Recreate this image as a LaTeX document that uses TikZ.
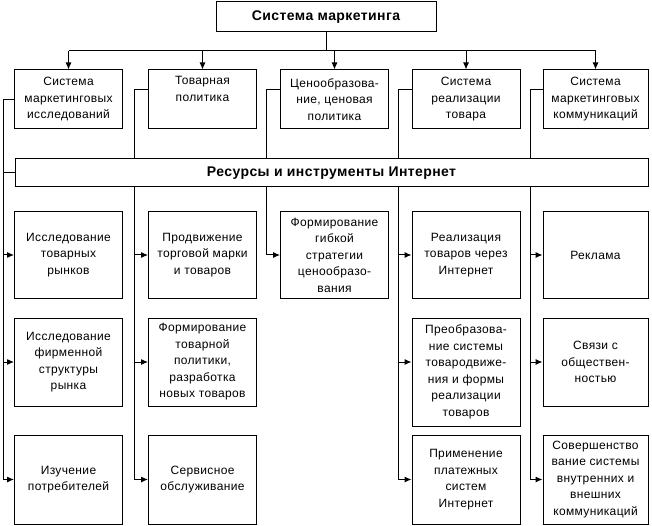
\documentclass[tikz,border=0pt]{standalone}
\usepackage{fontspec}
\setmainfont[LetterSpace=3]{Liberation Sans}
\usetikzlibrary{arrows.meta}

\begin{document}
\begin{tikzpicture}[x=1pt,y=-1pt,line width=1pt,
	font=\fontsize{12}{16.5}\selectfont,
	box/.style={draw,align=center,inner sep=1pt,minimum width=108pt},
	head/.style={font=\fontsize{14}{16}\selectfont\bfseries},
	arr/.style={-{Latex[length=7pt,width=6pt]}}]
	\useasboundingbox (0,0) rectangle (652,526);
	\node[box,head,minimum width=220pt,minimum height=30pt] (top) at (326,17) {Система маркетинга};
	\node[box,minimum height=59pt] (m1) at (68.5,99.5) {Система\\маркетинговых\\исследований};
	\node[box,minimum height=59pt] (m2) at (202.5,99.5) {Товарная\\политика\\\strut};
	\node[box,minimum height=59pt] (m3) at (334.5,99.5) {Ценообразова-\\ние, ценовая\\политика};
	\node[box,minimum height=59pt] (m4) at (466,99.5) {Система\\реализации\\товара};
	\node[box,minimum height=59pt,minimum width=105pt] (m5) at (595.5,99.5) {Система\\маркетинговых\\коммуникаций};
	\node[box,head,minimum width=633pt,minimum height=28pt] (bar) at (331.5,173) {Ресурсы и инструменты Интернет};
	\node[box,minimum height=86pt] (a1) at (68.5,255) {Исследование\\товарных\\рынков};
	\node[box,minimum height=86pt] (b1) at (202.5,255) {Продвижение\\торговой марки\\и товаров};
	\node[box,minimum height=86pt] (c1) at (334.5,255) {Формирование\\гибкой\\стратегии\\ценообразо-\\вания};
	\node[box,minimum height=86pt] (d1) at (466,255) {Реализация\\товаров через\\Интернет};
	\node[box,minimum height=86pt,minimum width=105pt] (e1) at (595.5,255) {Реклама};
	\node[box,minimum height=88pt] (a2) at (68.5,362) {Исследование\\фирменной\\структуры\\рынка};
	\node[box,minimum height=88pt] (b2) at (202.5,362) {Формирование\\товарной\\политики,\\разработка\\новых товаров};
	\node[box,minimum height=108pt] (d2) at (466,372) {Преобразова-\\ние системы\\товародвиже-\\ния и формы\\реализации\\товаров};
	\node[box,minimum height=88pt,minimum width=105pt] (e2) at (595.5,362) {Связи с\\обществен-\\ностью};
	\node[box,minimum height=89pt] (a3) at (68.5,479.5) {Изучение\\потребителей};
	\node[box,minimum height=89pt] (b3) at (202.5,479.5) {Сервисное\\обслуживание};
	\node[box,minimum height=89pt] (d3) at (466,479.5) {Применение\\платежных\\систем\\Интернет};
	\node[box,minimum height=89pt,minimum width=105pt] (e3) at (595.5,479.5) {Совершенство\\вание системы\\внутренних и\\внешних\\коммуникаций};
	\coordinate (bus) at (332,51);
	\coordinate (l1) at (3,0);
	\coordinate (l2) at (134,0);
	\coordinate (l3) at (266,0);
	\coordinate (l4) at (398,0);
	\coordinate (l5) at (530,0);
	\draw (top.south) -- (top.south |- bus);
	\draw (m1.north |- bus) -- (m5.north |- bus);
	\foreach \n in {m1,m2,m3,m4,m5}
		\draw[arr] (\n.north |- bus) -- (\n.north);
	% left column
	\draw (m1.west) -| (l1 |- a3.west);
	\draw (l1 |- bar.west) -- (bar.west);
	\foreach \n in {a1,a2,a3}
		\draw[arr] (l1 |- \n.west) -- (\n.west);
	% second column
	\draw ([yshift=10pt]m2.west) -| (l2 |- bar.north);
	\draw (l2 |- bar.south) -- (l2 |- b3.west);
	\foreach \n in {b1,b2,b3}
		\draw[arr] (l2 |- \n.west) -- (\n.west);
	% third column
	\draw ([yshift=10pt]m3.west) -| (l3 |- bar.north);
	\draw[arr] (l3 |- bar.south) |- (c1.west);
	% fourth column
	\draw ([yshift=10pt]m4.west) -| (l4 |- bar.north);
	\draw (l4 |- bar.south) -- (l4 |- d3.west);
	\draw[arr] (l4 |- d1.west) -- (d1.west);
	\draw[arr] (l4 |- e2.west) -- (d2.west |- e2.west);
	\draw[arr] (l4 |- d3.west) -- (d3.west);
	% fifth column
	\draw ([yshift=10pt]m5.west) -| (l5 |- bar.north);
	\draw (l5 |- bar.south) -- (l5 |- e3.west);
	\foreach \n in {e1,e2,e3}
		\draw[arr] (l5 |- \n.west) -- (\n.west);
\end{tikzpicture}
\end{document}
